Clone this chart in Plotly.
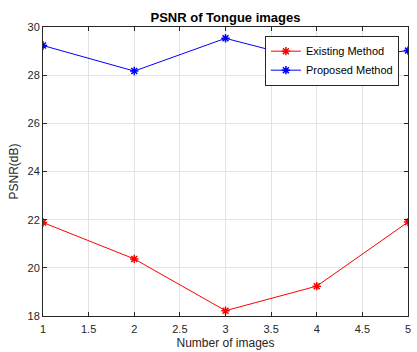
import plotly.graph_objects as go

num_images = [1, 2, 3, 4, 5]
existing_psnr = [21.88, 20.37, 18.22, 19.24, 21.9]
proposed_psnr = [29.23, 28.17, 29.53, 28.55, 29.02]
x_ticks = [1, 1.5, 2, 2.5, 3, 3.5, 4, 4.5, 5]
y_ticks = [18, 20, 22, 24, 26, 28, 30]

FONT = "Liberation Sans, Arial"

fig = go.Figure()
fig.add_trace(go.Scatter(
    x=num_images, y=existing_psnr, mode="lines+markers", name="Existing Method",
    line=dict(color="#ff0000", width=1),
    marker=dict(symbol="asterisk-open", size=7, color="#ff0000", line=dict(color="#ff0000", width=1.5)),
))
fig.add_trace(go.Scatter(
    x=num_images, y=proposed_psnr, mode="lines+markers", name="Proposed Method",
    line=dict(color="#0000ff", width=1),
    marker=dict(symbol="asterisk-open", size=7, color="#0000ff", line=dict(color="#0000ff", width=1.5)),
))

axis_common = dict(
    showline=True, linecolor="#262626", linewidth=1, mirror="ticks",
    ticks="inside", ticklen=4, tickcolor="#262626",
    showgrid=True, gridcolor="#e3e3e3", gridwidth=1, zeroline=False,
    automargin=False,
    tickfont=dict(family=FONT, size=11, color="#262626"),
)

fig.update_layout(
    width=417, height=352,
    margin=dict(l=43, r=9, t=27, b=36),
    paper_bgcolor="white", plot_bgcolor="white",
    title=dict(text="<b>PSNR of Tongue images</b>", xref="paper", x=0.5, xanchor="center",
               y=1 - 17 / 352, yanchor="middle",
               font=dict(family=FONT, size=13, color="black")),
    xaxis=dict(range=[1, 5], tickvals=x_ticks, ticktext=[str(v) for v in x_ticks],
               ticklabelstandoff=3,
               title=dict(text="Number of images", standoff=4,
                          font=dict(family=FONT, size=12, color="#262626")),
               **axis_common),
    yaxis=dict(range=[18, 30], tickvals=y_ticks,
               title=dict(text="PSNR(dB)", standoff=6,
                          font=dict(family=FONT, size=12, color="#262626")),
               **axis_common),
    legend=dict(x=0.975, y=0.97, xanchor="right", yanchor="top",
                bgcolor="white", bordercolor="#262626", borderwidth=1,
                font=dict(family=FONT, size=11, color="black"),
                tracegroupgap=0, itemwidth=30),
    showlegend=True,
)

fig.write_html("out.html")
